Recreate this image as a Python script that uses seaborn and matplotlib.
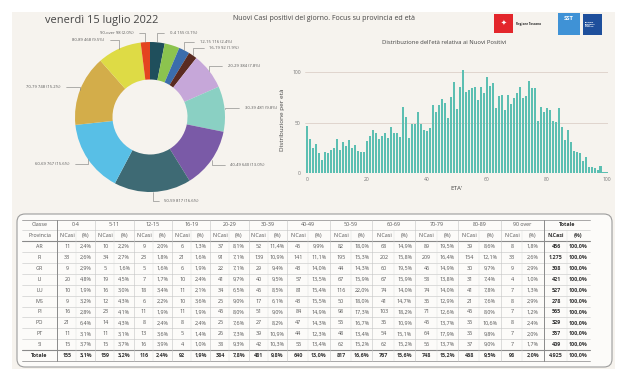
import numpy as np
import pandas as pd
import matplotlib
matplotlib.use("Agg")
import matplotlib.pyplot as plt
import seaborn as sns
from matplotlib.patches import FancyBboxPatch, Rectangle

import warnings
warnings.filterwarnings("ignore")

# ============================================
# Data
# ============================================

data_titolo = "venerdì 15 luglio 2022"

classi = ["0-4", "5-11", "12-15", "16-19", "20-29", "30-39", "40-49",
          "50-59", "60-69", "70-79", "80-89", "90 over"]
classi_torta = ["0-4", "5-11", "12-15", "16-19", "20-29", "30-39", "40-49",
                "50-59", "60-69", "70-79", "80-89", "90-over"]

province = ["AR", "FI", "GR", "LI", "LU", "MS", "PI", "PO", "PT", "SI"]

casi_AR = [11, 10, 9, 6, 37, 52, 45, 82, 68, 89, 39, 8]
casi_FI = [33, 34, 23, 21, 91, 139, 141, 195, 202, 209, 154, 33]
casi_GR = [9, 5, 5, 6, 22, 29, 43, 44, 60, 46, 30, 9]
casi_LI = [20, 19, 7, 10, 41, 40, 57, 67, 67, 58, 31, 4]
casi_LU = [10, 16, 18, 11, 34, 45, 81, 116, 74, 74, 41, 7]
casi_MS = [9, 12, 6, 10, 25, 17, 43, 50, 41, 36, 21, 8]
casi_PI = [16, 23, 11, 11, 45, 51, 84, 98, 103, 71, 45, 7]
casi_PO = [21, 14, 8, 8, 25, 27, 47, 55, 36, 45, 35, 8]
casi_PT = [11, 11, 13, 5, 26, 39, 44, 48, 54, 64, 35, 7]
casi_SI = [15, 15, 16, 4, 38, 42, 55, 62, 62, 56, 37, 7]

casi_totale = [155, 159, 116, 92, 384, 481, 640, 817, 767, 748, 468, 98]

colori_torta = ["#1f4f5c", "#8cc34e", "#3b6dac", "#5a2b21", "#c6a7d9", "#8ad0c3",
                "#7a5aa7", "#3e6a74", "#58bfe6", "#d3ad4a", "#dedb45", "#e4441f"]
etichette_nascoste = ["5-11"]

# age distribution (age 0 .. 100)
eta = list(range(0, 101))
casi_eta = [47, 34, 25, 29, 20, 13, 21, 20, 23, 25,
            34, 23, 31, 27, 33, 25, 28, 22, 21, 21,
            32, 37, 43, 40, 34, 37, 40, 35, 46, 40,
            40, 36, 65, 55, 35, 49, 49, 60, 49, 43,
            42, 45, 67, 60, 67, 73, 69, 54, 75, 90,
            63, 85, 102, 80, 82, 84, 85, 72, 85, 79,
            95, 86, 89, 64, 76, 77, 62, 77, 68, 74,
            79, 85, 74, 76, 91, 84, 84, 52, 65, 60,
            64, 62, 52, 51, 64, 46, 33, 43, 31, 22,
            21, 20, 12, 16, 6, 6, 5, 3, 7, 1, 1]

tabella = pd.DataFrame(
    [casi_AR, casi_FI, casi_GR, casi_LI, casi_LU,
     casi_MS, casi_PI, casi_PO, casi_PT, casi_SI],
    index=province, columns=classi)

# ============================================
# Figure setup
# ============================================

sns.set_theme(style="white")
plt.rcParams["font.family"] = ["Open Sans", "DejaVu Sans"]

W, H = 627, 380
fig = plt.figure(figsize=(W / 100, H / 100), dpi=100)
fig.patch.set_facecolor("white")

bg = fig.add_axes([0, 0, 1, 1])
bg.set_xlim(0, W)
bg.set_ylim(H, 0)
bg.axis("off")
bg.add_patch(Rectangle((12, 12), 603, 357, facecolor="#f6f3ee", edgecolor="none"))


def fmt_num(n):
    return f"{n:,}".replace(",", ".")


def fmt_pct(p):
    return f"{p:.1f}%".replace(".", ",")


# Header texts
bg.text(45, 20, data_titolo, fontsize=7.9, color="#444444", va="center", ha="left")
bg.text(324, 18, "Nuovi Casi positivi del giorno. Focus su provincia ed età",
        fontsize=5.0, color="#444444", va="center", ha="center")

# Logos (simple)
bg.add_patch(Rectangle((494, 14), 19, 19, facecolor="#e3262b", edgecolor="none"))
bg.text(503.5, 23.5, "✦", fontsize=5, color="white", ha="center", va="center")
bg.text(516, 24, "Regione Toscana", fontsize=2.2, color="#222222", weight="bold",
        va="center", ha="left")
bg.add_patch(Rectangle((558, 13), 22, 22, facecolor="#3f92d6", edgecolor="none"))
bg.text(569, 19, "SST", fontsize=4.2, color="white", weight="bold",
        ha="center", va="center")
bg.add_patch(Rectangle((583, 14), 19, 21, facecolor="#1e4f9c", edgecolor="none"))
bg.text(585, 24.5, "Servizio\nSanitario\ndella\nToscana", fontsize=1.7, color="white",
        weight="bold", ha="left", va="center", linespacing=1.1)

# ============================================
# Donut chart
# ============================================

cx, cy, R = 150, 117, 75
axd = fig.add_axes([(cx - 2 * R) / W, (H - cy - 2 * R) / H, 4 * R / W, 4 * R / H])
axd.set_facecolor("none")
wedges, _ = axd.pie(casi_totale, colors=colori_torta, startangle=90, counterclock=False,
                    radius=1.0, wedgeprops=dict(width=0.5, edgecolor="none"))
axd.set_xlim(-2, 2)
axd.set_ylim(-2, 2)
axd.set_aspect("equal")
axd.axis("off")

tot = sum(casi_totale)
for w, lab, n in zip(wedges, classi_torta, casi_totale):
    if lab in etichette_nascoste:
        continue
    ang = np.deg2rad((w.theta1 + w.theta2) / 2)
    x0, y0 = np.cos(ang), np.sin(ang)
    side = 1 if x0 >= 0 else -1
    xt = 1.12 * x0 + side * 0.15
    yt = 1.12 * y0
    axd.annotate(f"{lab} {n} ({n / tot * 100:.1f}%)", xy=(1.0 * x0, 1.0 * y0),
                 xytext=(xt, yt), fontsize=3.0, color="#555555",
                 ha="left" if side > 0 else "right", va="center",
                 arrowprops=dict(arrowstyle="-", color="#777777", lw=0.4,
                                 shrinkA=1.5, shrinkB=0,
                                 connectionstyle="angle,angleA=0,angleB=90,rad=0"))

# ============================================
# Age distribution bar chart
# ============================================

x_l, x_r = 305, 608
y_top, y_bot = 67, 173
axh = fig.add_axes([x_l / W, (H - y_bot) / H, (x_r - x_l) / W, (y_bot - y_top) / H])
axh.set_facecolor("none")
sns.barplot(x=eta, y=casi_eta, native_scale=True, color="#5cbfb2",
            width=0.68, ax=axh, zorder=3, saturation=1, linewidth=0,
            edgecolor="none", antialiased=False)
axh.set_xlim(-0.7, 100.5)
axh.set_ylim(0, 105)
axh.set_yticks([0, 50, 100])
axh.set_xticks([0, 20, 40, 60, 80, 100])
axh.grid(axis="y", color="#dcd0c8", lw=0.6, zorder=0)
for s in axh.spines.values():
    s.set_visible(False)
axh.tick_params(axis="both", length=0, labelsize=3.6, labelcolor="#777777", pad=3)
axh.set_xlabel("ETA'", fontsize=4.5, color="#444444", labelpad=3)
axh.set_ylabel("Distribuzione per età", fontsize=4.6, color="#444444", labelpad=5)
bg.text(444, 43, "Distribuzione dell'età relativa ai Nuovi Positivi",
        fontsize=4.2, color="#444444", ha="center", va="center")

# ============================================
# Table
# ============================================

bg.add_patch(FancyBboxPatch((17, 214), 595, 153, boxstyle="round,pad=0,rounding_size=8",
                            facecolor="#fcfbf9", edgecolor="#9c9c9c", lw=0.8))

tx0 = 22
ty0 = 219.5
rh = 10.88
col_w = [35] + [38.3] * 6 + [42.8] * 6 + [46.2]
bordi = np.concatenate([[tx0], tx0 + np.cumsum(col_w)])
n_righe = 2 + len(province) + 1
ty1 = ty0 + rh * n_righe

fs = 3.9
c_txt = "#555555"
c_bold = "#333333"

# header row 1
bg.text((bordi[0] + bordi[1]) / 2, ty0 + rh * 0.5, "Classe", fontsize=fs, color=c_txt,
        ha="center", va="center")
for i, c in enumerate(classi + ["Totale"]):
    xc = (bordi[i + 1] + bordi[i + 2]) / 2
    bold = c == "Totale"
    bg.text(xc, ty0 + rh * 0.5, c, fontsize=fs, color=c_bold if bold else c_txt,
            weight="bold" if bold else "normal", ha="center", va="center")

# header row 2
bg.text((bordi[0] + bordi[1]) / 2, ty0 + rh * 1.5, "Provincia", fontsize=fs, color=c_txt,
        ha="center", va="center")
for i in range(len(classi) + 1):
    a, b = bordi[i + 1], bordi[i + 2]
    bold = i == len(classi)
    for k, s in enumerate(["N.Casi", "(%)"]):
        bg.text(a + (b - a) * (0.27 + 0.48 * k), ty0 + rh * 1.5, s, fontsize=fs,
                color=c_bold if bold else c_txt, weight="bold" if bold else "normal",
                ha="center", va="center")

# data rows
righe = [(p, list(tabella.loc[p])) for p in province] + [("Totale", casi_totale)]
for r, (nome, valori) in enumerate(righe):
    yc = ty0 + rh * (r + 2.5)
    tot_riga = nome == "Totale"
    somma = sum(valori)
    bg.text((bordi[0] + bordi[1]) / 2, yc, nome, fontsize=fs,
            color=c_bold if tot_riga else c_txt,
            weight="bold" if tot_riga else "normal", ha="center", va="center")
    celle = [(fmt_num(v), fmt_pct(v / somma * 100)) for v in valori]
    celle.append((fmt_num(somma), fmt_pct(100.0)))
    for i, (n, p) in enumerate(celle):
        a, b = bordi[i + 1], bordi[i + 2]
        bold = tot_riga or i == len(classi)
        for k, s in enumerate([n, p]):
            bg.text(a + (b - a) * (0.27 + 0.48 * k), yc, s, fontsize=fs,
                    color=c_bold if bold else c_txt, weight="bold" if bold else "normal",
                    ha="center", va="center")

# grid lines
for r in range(n_righe + 1):
    y = ty0 + rh * r
    if r in (2, n_righe - 1):
        lw, col = 0.8, "#8a8a8a"
    elif r in (0, n_righe):
        lw, col = 0.6, "#9a9a9a"
    else:
        lw, col = 0.4, "#c4c4c4"
    bg.plot([bordi[0], bordi[-1]], [y, y], color=col, lw=lw)
for i, x in enumerate(bordi):
    if i in (1, len(bordi) - 2):
        bg.plot([x, x], [ty0, ty1], color="#8a8a8a", lw=0.7)
    elif 0 < i < len(bordi) - 1:
        bg.plot([x, x], [ty0, ty1], color="#c4c4c4", lw=0.4)
for i in range(1, len(bordi) - 1):
    xm = (bordi[i] + bordi[i + 1]) / 2
    bg.plot([xm, xm], [ty0 + rh, ty1], color="#dadada", lw=0.3)

fig.savefig("out.png", dpi=100, facecolor=fig.get_facecolor())
